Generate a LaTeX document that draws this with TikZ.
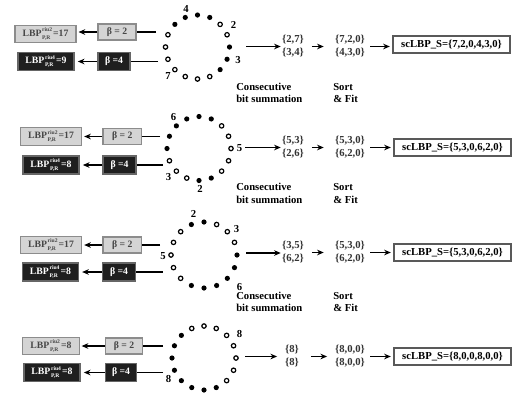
\documentclass[tikz,border=0pt]{standalone}
\usepackage{fontspec}
\setmainfont{Liberation Serif}
\usetikzlibrary{arrows.meta}
\newcommand{\dotring}[4]{%
  \foreach \f [count=\i from 0] in {#4} {%
    \ifnum\f=1
      \fill ({#1+#3*sin(\i*22.5)},{#2-#3*cos(\i*22.5)}) circle[radius=1.95pt];
    \else
      \draw[line width=0.9pt, fill=white] ({#1+#3*sin(\i*22.5)},{#2-#3*cos(\i*22.5)}) circle[radius=1.65pt];
    \fi}}
\newcommand{\lbpt}[3]{LBP\hspace{0.5pt}\rlap{\raisebox{-2.5pt}{\fontsize{4.2}{4.2}\selectfont #2}}\raisebox{3.4pt}{\fontsize{4.2}{4.2}\selectfont #1}\hspace{0.8pt}=#3}
\begin{document}
\begin{tikzpicture}[x=0.75pt,y=-0.75pt,
  font=\bfseries\fontsize{8}{9.5}\selectfont,
  lbox/.style={draw=black!45, fill=black!17, text=black!72, line width=0.8pt, inner sep=0pt,
    minimum height=13pt, font=\bfseries\fontsize{7.3}{8}\selectfont},
  dbox/.style={draw=black!60, fill=black!88, text=white, line width=0.8pt, inner sep=0pt,
    minimum height=13.5pt, font=\bfseries\fontsize{7.3}{8}\selectfont},
  obox/.style={draw=black!65, fill=white, line width=0.8pt, inner sep=0pt,
    minimum width=87.75pt, minimum height=12.75pt, font=\bfseries\fontsize{8}{9}\selectfont},
  setA/.style={align=center, inner sep=0pt, minimum width=18pt, font=\bfseries\fontsize{8}{9.75}\selectfont, text=black!80},
  setB/.style={align=center, inner sep=0pt, minimum width=24pt, font=\bfseries\fontsize{8}{9.75}\selectfont, text=black!80},
  steplabel/.style={align=left, anchor=west, inner sep=0pt, font=\bfseries\fontsize{8}{9.5}\selectfont},
  digit/.style={inner sep=0pt, font=\bfseries\fontsize{8}{8}\selectfont},
  conn/.style={line width=1pt},
  arr/.style={line width=1pt, -{Stealth[length=5pt,width=4.2pt]}},
]
\useasboundingbox (0,0) rectangle (513,394);

% ---------------- Row 1 ----------------
\dotring{197.5}{47}{32}{1,1,0,0,1,1,1,0,0,0,0,0,0,0,1,1}
\node[digit] (d1a) at (186,9) {4};
\node[digit] (d1b) at (233.5,25) {2};
\node[digit] (d1c) at (238,60) {3};
\node[digit] (d1d) at (168,76) {7};
\node[lbox, minimum width=45.75pt] (l1) at (45.5,34) {\lbpt{riu2}{P,R}{17}};
\node[lbox, minimum width=28.5pt, minimum height=12pt] (b1) at (117,32) {β = 2};
\node[dbox, minimum width=42pt] (k1) at (46,61.5) {\lbpt{riu4}{P,R}{9}};
\node[dbox, minimum width=24pt] (c1) at (114,61.5) {β =4};
\coordinate (p1a) at (156,32);
\coordinate (p1b) at (158,61.5);
\draw[conn] (p1a) -- (b1.east);
\draw[conn] (p1b) -- (c1.east);
\draw[arr] (b1.west) -- ([xshift=1.5pt]l1.east |- b1.west);
\draw[arr] (c1.west) -- ([xshift=2.5pt]k1.east);
\coordinate (q1) at (246,46.5);
\node[setA] (s1) at (293,46.5) {\{2,7\}\\\{3,4\}};
\node[setB] (f1) at (350,46.5) {\{7,2,0\}\\\{4,3,0\}};
\node[obox] (o1) at (451.5,44.5) {scLBP\_S=\{7,2,0,4,3,0\}};
\draw[arr] (q1) -- (s1.west);
\draw[arr, shorten <=5pt, shorten >=7.5pt] (s1.east) -- (f1.west);
\draw[arr, shorten <=3pt, shorten >=2pt] (f1.east) -- (f1.east -| o1.west);
\node[steplabel] (t1) at (236,93) {Consecutive\\bit summation};
\node[steplabel] (u1) at (333,93) {Sort\\\& Fit};

% ---------------- Row 2 ----------------
\dotring{199}{148.5}{32}{1,1,0,0,0,0,0,1,1,0,0,0,1,1,1,1}
\node[digit] (d2a) at (173.5,117) {6};
\node[digit] (d2b) at (239.5,148.5) {5};
\node[digit] (d2c) at (200,189) {2};
\node[digit] (d2d) at (168.5,177) {3};
\node[lbox, minimum width=46pt] (l2) at (51,136.5) {\lbpt{riu2}{P,R}{17}};
\node[lbox, minimum width=29pt, minimum height=12pt] (b2) at (122.3,136.5) {β = 2};
\node[dbox, minimum width=42pt] (k2) at (51,165) {\lbpt{riu4}{P,R}{8}};
\node[dbox, minimum width=24.75pt] (c2) at (119.5,165) {β =4};
\coordinate (p2a) at (160,136.5);
\coordinate (p2b) at (163,165);
\draw[conn] (p2a) -- (b2.east);
\draw[conn] (p2b) -- (c2.east);
\draw[arr] (b2.west) -- ([xshift=1.5pt]l2.east);
\draw[arr] (c2.west) -- ([xshift=2.5pt]k2.east);
\coordinate (q2) at (245,147.5);
\node[setA] (s2) at (293,147.5) {\{5,3\}\\\{2,6\}};
\node[setB] (f2) at (350,147.5) {\{5,3,0\}\\\{6,2,0\}};
\node[obox] (o2) at (452.5,147.5) {scLBP\_S=\{5,3,0,6,2,0\}};
\draw[arr] (q2) -- (s2.west);
\draw[arr, shorten <=5pt, shorten >=7.5pt] (s2.east) -- (f2.west);
\draw[arr, shorten <=3pt, shorten >=2pt] (f2.east) -- (o2.west);
\node[steplabel] (t2) at (236,193.5) {Consecutive\\bit summation};
\node[steplabel] (u2) at (333,193.5) {Sort\\\& Fit};

% ---------------- Row 3 ----------------
\dotring{204}{255}{33}{1,0,0,0,1,1,1,1,1,1,0,0,0,0,0,1}
\node[digit] (d3a) at (193.5,214) {2};
\node[digit] (d3b) at (236.5,229) {3};
\node[digit] (d3c) at (163,256.5) {5};
\node[digit] (d3d) at (239.5,287) {6};
\node[lbox, minimum width=46pt] (l3) at (51,245) {\lbpt{riu2}{P,R}{17}};
\node[lbox, minimum width=29pt, minimum height=12pt] (b3) at (122.3,245) {β = 2};
\node[dbox, minimum width=41.7pt] (k3) at (50.5,272) {\lbpt{riu4}{P,R}{8}};
\node[dbox, minimum width=24.25pt] (c3) at (119,272) {β =4};
\coordinate (p3a) at (160,245);
\coordinate (p3b) at (162.5,272);
\draw[conn] (p3a) -- (b3.east);
\draw[conn] (p3b) -- (c3.east);
\draw[arr] (b3.west) -- ([xshift=1.5pt]l3.east);
\draw[arr] (c3.west) -- ([xshift=2.5pt]k3.east);
\coordinate (q3) at (246,253);
\node[setA] (s3) at (293,252.5) {\{3,5\}\\\{6,2\}};
\node[setB] (f3) at (350,252.5) {\{5,3,0\}\\\{6,2,0\}};
\node[obox] (o3) at (452.5,252.5) {scLBP\_S=\{5,3,0,6,2,0\}};
\draw[arr] (q3) -- (s3.west |- q3);
\draw[arr, shorten <=5pt, shorten >=7.5pt] (s3.east) -- (f3.west);
\draw[arr, shorten <=3pt, shorten >=2pt] (f3.east) -- (o3.west);
\node[steplabel] (t3) at (236,302) {Consecutive\\bit summation};
\node[steplabel] (u3) at (333,302) {Sort\\\& Fit};

% ---------------- Row 4 ----------------
\dotring{204}{358}{32}{0,0,0,0,0,0,0,1,1,1,1,1,1,1,1,0}
\node[digit] (d4a) at (239.5,334) {8};
\node[digit] (d4b) at (168.5,379) {8};
\node[lbox, minimum width=42.2pt] (l4) at (51,346) {\lbpt{riu2}{P,R}{8}};
\node[lbox, minimum width=28.3pt, minimum height=12pt] (b4) at (124,346) {β = 2};
\node[dbox, minimum width=42pt] (k4) at (52,372.5) {\lbpt{riu4}{P,R}{8}};
\node[dbox, minimum width=23.75pt] (c4) at (121,372.5) {β =4};
\coordinate (p4a) at (163,346);
\coordinate (p4b) at (163,372.5);
\draw[conn] (p4a) -- (b4.east);
\draw[conn] (p4b) -- (c4.east);
\draw[arr] (b4.west) -- ([xshift=1.5pt]l4.east);
\draw[arr] (c4.west) -- ([xshift=2.5pt]k4.east);
\coordinate (q4) at (245,356.5);
\node[setA] (s4) at (292,356.5) {\{8\}\\\{8\}};
\node[setB] (f4) at (350,356.5) {\{8,0,0\}\\\{8,0,0\}};
\node[obox] (o4) at (452.5,356.5) {scLBP\_S=\{8,0,0,8,0,0\}};
\draw[arr, shorten >=2pt] (q4) -- (s4.west);
\draw[arr, shorten <=5pt, shorten >=5pt] (s4.east) -- (f4.west);
\draw[arr, shorten <=3pt, shorten >=2pt] (f4.east) -- (o4.west);
\end{tikzpicture}
\end{document}
